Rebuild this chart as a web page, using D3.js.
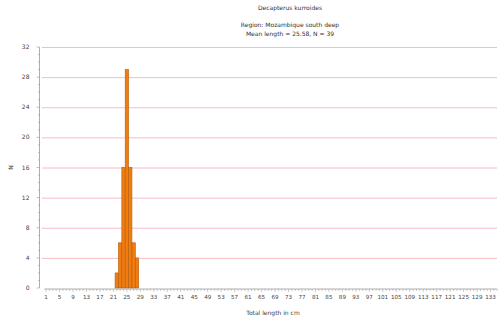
<!DOCTYPE html>
<html>
<head>
<meta charset="utf-8">
<script src="https://cdn.jsdelivr.net/npm/d3@7/dist/d3.min.js"></script>
<style>
  html, body { margin: 0; padding: 0; background: #fff; }
  svg { display: block; font-family: "DejaVu Sans", sans-serif; }
</style>
</head>
<body>
<svg id="chart" width="504" height="323"></svg>
<script>
// Length-frequency histogram
const titleLines = ["Decapterus kurroides", "Region: Mozambique south deep", "Mean length = 25.58, N = 39"];
const lengthClasses = [22, 23, 24, 25, 26, 27, 28];
const counts = [2, 6, 16, 29, 16, 6, 4];
const yTicks = [0, 4, 8, 12, 16, 20, 24, 28, 32];
const xTickLabels = d3.range(1, 134, 4);
const xLabel = "Total length in cm";
const yLabel = "N";

const svg = d3.select("#chart");
const plotLeft = 41, plotRight = 499, plotTop = 47, plotBottom = 288;

const x = d3.scaleLinear().domain([-0.5, 135.5]).range([plotLeft, plotRight]);
const y = d3.scaleLinear().domain([0, 32]).range([plotBottom, plotTop]);

// Grid lines
svg.append("g").selectAll("line")
  .data(yTicks.filter(d => d > 0))
  .join("line")
  .attr("x1", plotLeft + 1).attr("x2", 497)
  .attr("y1", d => y(d) + 0.5).attr("y2", d => y(d) + 0.5)
  .attr("stroke", "#f6bcc6").attr("stroke-width", 1);

// Bars
svg.append("g").selectAll("rect")
  .data(lengthClasses.map((c, i) => ({ c, n: counts[i] })))
  .join("rect")
  .attr("x", d => x(d.c - 0.5))
  .attr("width", d => x(d.c + 0.5) - x(d.c - 0.5))
  .attr("y", d => y(d.n))
  .attr("height", d => y(0) - y(d.n))
  .attr("fill", "#f07d12")
  .attr("stroke", "#b85a08")
  .attr("stroke-width", 0.6);

// Y axis
const yAxis = svg.append("g").attr("transform", `translate(${plotLeft - 1.5},0)`);
yAxis.append("line").attr("y1", plotTop).attr("y2", plotBottom).attr("stroke", "#999").attr("stroke-width", 0.8);
yAxis.selectAll(".minor").data(d3.range(0, 33)).join("line")
  .attr("class", "minor")
  .attr("x1", d => d % 4 === 0 ? -3 : -1.5).attr("x2", 0)
  .attr("y1", d => y(d)).attr("y2", d => y(d))
  .attr("stroke", "#999").attr("stroke-width", 0.6);
yAxis.selectAll("text").data(yTicks).join("text")
  .attr("x", -10).attr("y", d => y(d) + 2)
  .attr("text-anchor", "end")
  .attr("font-size", 6).attr("fill", "#444")
  .text(d => d);

svg.append("text")
  .attr("transform", `translate(13,${(plotTop + plotBottom) / 2}) rotate(-90)`)
  .attr("text-anchor", "middle").attr("font-size", 6).attr("fill", "#444")
  .text(yLabel);

// X axis
const xAxis = svg.append("g").attr("transform", `translate(0,${plotBottom + 1})`);
xAxis.append("line").attr("x1", x(0.5)).attr("x2", plotRight - 2).attr("stroke", "#999").attr("stroke-width", 0.8);
xAxis.selectAll("line.t").data(d3.range(1, 136)).join("line")
  .attr("class", "t")
  .attr("x1", d => x(d)).attr("x2", d => x(d))
  .attr("y1", 0).attr("y2", d => (d - 1) % 4 === 0 ? 3 : 2)
  .attr("stroke", "#999").attr("stroke-width", 0.5);
xAxis.selectAll("text").data(xTickLabels).join("text")
  .attr("x", d => x(d)).attr("y", 10)
  .attr("text-anchor", "middle")
  .attr("font-size", 5.6).attr("fill", "#444")
  .text(d => d);

svg.append("text")
  .attr("x", 273).attr("y", 315)
  .attr("text-anchor", "middle").attr("font-size", 6).attr("fill", "#444")
  .text(xLabel);

// Titles
svg.selectAll("text.title").data(titleLines).join("text")
  .attr("class", "title")
  .attr("x", 290).attr("y", (d, i) => [10, 27, 36][i])
  .attr("text-anchor", "middle").attr("font-size", 6).attr("fill", "#333")
  .text(d => d);
</script>
</body>
</html>
